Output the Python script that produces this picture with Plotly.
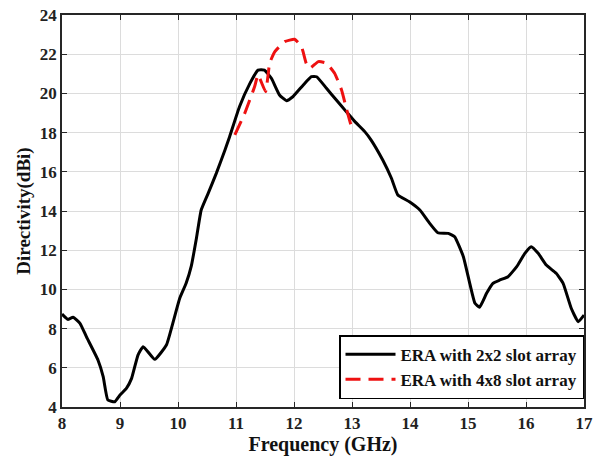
import plotly.graph_objects as go

# ERA with 2x2 slot array
freq_2x2 = [8.00, 8.10, 8.19, 8.31, 8.42, 8.62, 8.71, 8.79, 8.91, 9.00, 9.11, 9.20, 9.31, 9.40,
            9.60, 9.80, 9.91, 10.03, 10.14, 10.23, 10.32, 10.40, 10.52, 10.66, 10.81, 10.89,
            11.06, 11.24, 11.38, 11.49, 11.61, 11.75, 11.87, 11.98, 12.16, 12.30, 12.39,
            12.56, 12.73, 12.90, 13.05, 13.22, 13.33, 13.53, 13.68, 13.79, 13.99, 14.17,
            14.34, 14.48, 14.66, 14.77, 14.92, 15.03, 15.12, 15.20, 15.32, 15.43, 15.55,
            15.69, 15.84, 15.98, 16.09, 16.21, 16.35, 16.52, 16.64, 16.78, 16.90, 17.00]
dir_2x2 = [8.74, 8.47, 8.58, 8.27, 7.59, 6.40, 5.55, 4.36, 4.27, 4.61, 4.95, 5.46, 6.65, 7.08,
           6.43, 7.16, 8.27, 9.55, 10.31, 11.20, 12.65, 14.05, 14.90, 15.92, 17.11, 17.79,
           19.32, 20.51, 21.19, 21.19, 20.77, 19.92, 19.63, 19.83, 20.43, 20.85, 20.85,
           20.26, 19.66, 19.07, 18.56, 18.05, 17.62, 16.60, 15.67, 14.82, 14.47, 14.05,
           13.37, 12.89, 12.86, 12.69, 11.67, 10.31, 9.29, 9.09, 9.80, 10.31, 10.48,
           10.65, 11.16, 11.84, 12.18, 11.84, 11.24, 10.82, 10.31, 9.04, 8.35, 8.69]

# ERA with 4x8 slot array
freq_4x8 = [10.98, 11.15, 11.32, 11.38, 11.51, 11.58, 11.67, 11.84, 12.01, 12.13, 12.21,
            12.27, 12.42, 12.56, 12.70, 12.82, 12.91, 12.99]
dir_4x8 = [17.88, 18.98, 20.34, 20.94, 20.09, 21.54, 22.13, 22.64, 22.76, 22.38, 21.54,
           21.28, 21.62, 21.54, 21.03, 20.17, 19.15, 18.30]

x_ticks = [8, 9, 10, 11, 12, 13, 14, 15, 16, 17]
y_ticks = [4, 6, 8, 10, 12, 14, 16, 18, 20, 22, 24]
series_names = ["ERA with 2x2 slot array", "ERA with 4x8 slot array"]

FONT = "Liberation Serif"

fig = go.Figure()
fig.add_trace(go.Scatter(x=freq_2x2, y=dir_2x2, mode="lines",
                         name="<b>" + series_names[0] + "</b>",
                         line=dict(color="black", width=3, shape="spline", smoothing=0.4)))
fig.add_trace(go.Scatter(x=freq_4x8, y=dir_4x8, mode="lines",
                         name="<b>" + series_names[1] + "</b>",
                         line=dict(color="#ee1111", width=3, dash="15px,8px",
                                   shape="spline", smoothing=0.4)))

axis_common = dict(showline=True, linecolor="#262626", linewidth=1.5, mirror="ticks",
                   ticks="inside", ticklen=5, tickcolor="#262626", tickwidth=1,
                   showgrid=True, gridcolor="#dcdcdc", gridwidth=1, zeroline=False,
                   automargin=False, ticklabeloverflow="allow",
                   tickfont=dict(family=FONT, size=17, color="#222"))

fig.update_xaxes(range=[8, 17], tickvals=x_ticks,
                 ticktext=["<b>%d</b>" % v for v in x_ticks],
                 title=dict(text="<b>Frequency (GHz)</b>", standoff=4,
                            font=dict(family=FONT, size=20, color="#111")),
                 **axis_common)
fig.update_yaxes(range=[4, 24], tickvals=y_ticks,
                 ticktext=["<b>%d</b>" % v for v in y_ticks],
                 title=dict(text="<b>Directivity(dBi)</b>", standoff=4,
                            font=dict(family=FONT, size=19, color="#111")),
                 **axis_common)

fig.update_layout(
    width=600, height=458,
    margin=dict(l=62, r=16, t=15, b=51),
    plot_bgcolor="white", paper_bgcolor="white",
    showlegend=True,
    legend=dict(x=1.0, y=0.02, xanchor="right", yanchor="bottom",
                bgcolor="white", bordercolor="black", borderwidth=1.5,
                font=dict(family=FONT, size=17, color="#111"),
                itemwidth=50, tracegroupgap=0),
)

fig.write_html("out.html", config={"displayModeBar": False},
               post_script="document.body.style.margin='0';")
